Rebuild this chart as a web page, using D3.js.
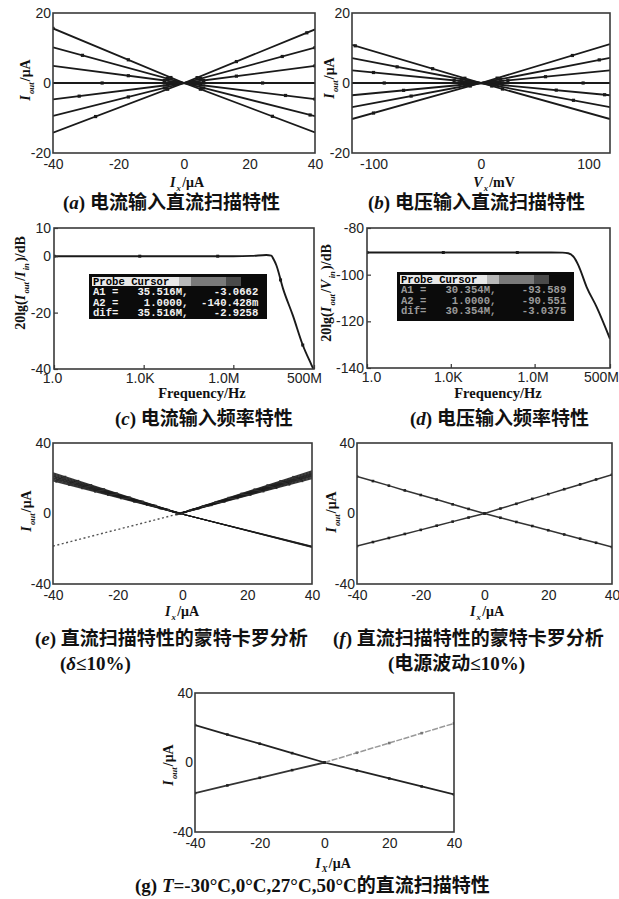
<!DOCTYPE html>
<html><head><meta charset="utf-8">
<script src="https://cdn.jsdelivr.net/npm/d3@7"></script>
<style>body{margin:0;background:#fff}text{white-space:pre}</style>
</head><body>
<script>
// ---------- DATA ----------
// (a) current-input DC sweep: Iout (uA) at Ix = aX
const aX = [-40, 0, 40];
const aSeries = [
  [15.6, 0, 15.3],
  [10.2, 0, 10.1],
  [4.9, 0, 4.9],
  [0, 0, 0],
  [-4.7, 0, -4.6],
  [-9.4, 0, -9.5],
  [-14.2, 0, -14.1]
];
const aMarkX = [[-40,-17,-4,4,16,37.5],[-31,-5,5,30,40],[-17,-6,6,16,40],[-25,-6,6,24],[-32,-5,5,31,40],[-17,-6,6,38.5],[-27,-5,5,27]];
// (b) voltage-input DC sweep: Iout (uA) at Vx = bX (mV)
const bX = [-120, 0, 120];
const bSeries = [
  [10.9, 0, 11.1],
  [7.1, 0, 7.2],
  [3.6, 0, 3.6],
  [0, 0, 0],
  [-3.5, 0, -3.5],
  [-6.9, 0, -6.9],
  [-10.3, 0, -10.3]
];
const bMarkX = [[-117,-45,-15,15,85],[-78,-18,18,110],[-100,-25,25,60],[-90,-20,20,95],[-72,-15,15,70,115],[-65,-12,12,86],[-100,-10,10,20]];
// (c) current-input frequency response
const cFreq = [1, 10, 100, 1e3, 1e4, 1e5, 1e6, 4e6, 1.26e7, 1.86e7, 2.2e7, 2.75e7, 4.6e7, 9.8e7, 2.1e8, 4.1e8, 5e8];
const cGain = [0, 0, 0, 0, 0, 0, 0, 0.1, 0.45, 0.2, -1.0, -3.2, -11.5, -21, -31.5, -38.5, -40.5];
const cMarkF = [1, 740, 3e5, 3.8e7, 2.1e8];
const cCursor = ["A1 =   35.516M,    -3.0662", "A2 =    1.0000,  -140.428m", "dif=   35.516M,    -2.9258"];
// (d) voltage-input frequency response
const dFreq = [1, 10, 100, 1e3, 1e4, 1e5, 1e6, 1e7, 1.6e7, 2.5e7, 3.7e7, 7.3e7, 1.67e8, 5e8];
const dGain = [-90.5, -90.5, -90.5, -90.5, -90.5, -90.5, -90.5, -90.55, -90.8, -92.4, -96, -105.3, -113.9, -127.5];
const dMarkF = [1, 540, 2.4e5];
const dCursor = ["A1 =   30.354M,    -93.589", "A2 =    1.0000,    -90.551", "dif=   30.354M,    -3.0375"];
// frequency axis ticks
const fTicks = [1, 1e3, 1e6, 5e8];
const fTickLabels = ["1.0", "1.0K", "1.0M", "500M"];
// (e) Monte Carlo (delta<=10%)
const eX = [-40, -0.8, 40];
const eDecLeft = [18.6, 19.3, 19.9, 20.4, 20.9, 21.4, 21.9, 22.5, 23.1];
const eDecRight = [-18.5, -18.6, -18.7, -18.8, -18.9, -19.0, -19.1, -19.2, -19.3];
const eIncLeft = [-18.1, -18.2, -18.3, -18.4, -18.5, -18.6, -18.7, -18.8, -18.9];
const eIncRight = [19.8, 20.4, 21.0, 21.5, 22.0, 22.5, 23.0, 23.6, 24.2];
const eMarkX = [-39,-35,-31,-27,-23,-19,-15,-11,-7,-3,1,5,9,13,17,21,25,29,33,37];
// (f) Monte Carlo (supply fluctuation<=10%)
const fX = [-40,-35,-30,-25,-20,-15,-10,-5,0,5,10,15,20,25,30,35,40];
const fDec = [21,18.4,15.8,13.1,10.5,7.9,5.2,2.6,0,-2.4,-4.8,-7.1,-9.5,-11.9,-14.3,-16.6,-19];
const fInc = [-18.5,-16.2,-13.9,-11.6,-9.3,-6.9,-4.6,-2.3,0,2.8,5.5,8.3,11,13.8,16.5,19.3,22];
// (g) temperature sweep
const gX = [-40,-30,-20,-10,0,10,20,30,40];
const gDec = [21.5,16.1,10.8,5.4,0,-4.6,-9.2,-13.8,-18.4];
const gInc = [-17.6,-13.2,-8.8,-4.4,0,5.6,11.2,16.9,22.5];
// tick values
const ticksX40 = [-40, -20, 0, 20, 40];
const ticksY20 = [-20, 0, 20];
const ticksY40 = [-40, 0, 40];
const ticksXmV = [-100, 0, 100];
const ticksYc = [-40, -20, 0, 10];
const ticksYd = [-140, -120, -100, -80];

// ---------- DRAWING ----------
const SANS = "'Liberation Sans', Arial, sans-serif";
const SERIF = "'Liberation Serif', 'Times New Roman', serif";
const CJK = "'Noto Sans CJK SC', sans-serif";
const MONO = "'Liberation Mono', 'DejaVu Sans Mono', monospace";
const INK = "#1a1a1a";

const svg = d3.select('body').append('svg').attr('width', 619).attr('height', 899);
let clipN = 0;

function panel(o) {
  const x = (o.log ? d3.scaleLog() : d3.scaleLinear()).domain(o.xDomain).range([o.x0, o.x1]);
  const y = d3.scaleLinear().domain(o.yDomain).range([o.y1, o.y0]);
  const g = svg.append('g');
  const id = 'clip' + (clipN++);
  svg.append('clipPath').attr('id', id).append('rect')
    .attr('x', o.x0).attr('y', o.y0).attr('width', o.x1 - o.x0).attr('height', o.y1 - o.y0);
  const plot = g.append('g').attr('clip-path', `url(#${id})`);
  const style = s => {
    s.select('.domain').remove();
    s.selectAll('text').attr('font-family', SANS).attr('font-size', 14).attr('fill', '#222');
    s.selectAll('line').attr('stroke', '#333').attr('stroke-width', 1.2);
  };
  const xa = d3.axisBottom(x).tickValues(o.xTicks)
    .tickFormat((d, i) => o.xLabels ? o.xLabels[i] : String(d))
    .tickSize(o.tick || 0).tickPadding(o.xPad || 6);
  const xg = g.append('g').attr('transform', `translate(0,${o.y1})`).call(xa).call(style);
  if (o.xShift) xg.selectAll('text').attr('dx', (d, i) => o.xShift[i]);
  const ya = d3.axisLeft(y).tickValues(o.yTicks).tickFormat(d => String(d))
    .tickSize(o.tick || 0).tickPadding(o.yPad || 2);
  g.append('g').attr('transform', `translate(${o.x0},0)`).call(ya).call(style);
  g.append('rect').attr('x', o.x0).attr('y', o.y0).attr('width', o.x1 - o.x0).attr('height', o.y1 - o.y0)
    .attr('fill', 'none').attr('stroke', '#3a3a3a').attr('stroke-width', 1.6);
  return { g, plot, x, y };
}

function rich(parent, x, y, parts, size, anchor, rotate) {
  const t = parent.append('text')
    .attr('transform', `translate(${x},${y})` + (rotate ? ' rotate(-90)' : ''))
    .attr('text-anchor', anchor || 'middle').attr('font-size', size).attr('fill', '#111');
  let shift = 0, prevSub = false;
  parts.forEach(p => {
    const ts = t.append('tspan').text(p.t);
    const fam = p.c ? CJK : SERIF;
    ts.attr('font-family', fam).attr('font-weight', p.c ? 600 : 'bold');
    if (p.i) ts.attr('font-style', 'italic');
    let want = 0;
    if (p.s) { ts.attr('font-size', size * 0.62).attr('dx', 1.2); want = size * 0.28; }
    else if (prevSub) ts.attr('dx', 1.2);
    if (want !== shift) { ts.attr('dy', want - shift); shift = want; }
    prevSub = !!p.s;
  });
  return t;
}

const IOUT = [{t:'I', i:1}, {t:'out', i:1, s:1}, {t:'/μA'}];
const IX = [{t:'I', i:1}, {t:'x', i:1, s:1}, {t:'/μA'}];

function drawLine(p, pts, opts) {
  p.plot.append('path').datum(pts)
    .attr('d', d3.line().x(d => p.x(d[0])).y(d => p.y(d[1])).curve(opts.curve || d3.curveLinear))
    .attr('fill', 'none').attr('stroke', opts.color || INK).attr('stroke-width', opts.w || 1.8)
    .attr('stroke-dasharray', opts.dash || null).attr('opacity', opts.op || 1);
}
function drawMarks(p, pts, sz, color) {
  p.plot.selectAll(null).data(pts).enter().append('rect')
    .attr('x', d => p.x(d[0]) - sz / 2).attr('y', d => p.y(d[1]) - sz / 2)
    .attr('width', sz).attr('height', sz).attr('fill', color || INK);
}

// ----- (a)
{
  const p = panel({x0:53, x1:315, y0:13, y1:153, xDomain:[-40,40], yDomain:[-20,20], xTicks:ticksX40, yTicks:ticksY20});
  aSeries.forEach((s, k) => {
    drawLine(p, aX.map((v, i) => [v, s[i]]), {w:1.8});
    const f = d3.scaleLinear().domain(aX).range(s);
    drawMarks(p, aMarkX[k].map(v => [v, f(v)]), 3.2);
  });
  rich(svg, 187, 187, IX, 14);
  rich(svg, 30, 80, IOUT, 14, 'middle', true);
}
// ----- (b)
{
  const p = panel({x0:352, x1:610, y0:13, y1:153, xDomain:[-120,120], yDomain:[-20,20], xTicks:ticksXmV, yTicks:ticksY20});
  bSeries.forEach((s, k) => {
    drawLine(p, bX.map((v, i) => [v, s[i]]), {w:1.8});
    const f = d3.scaleLinear().domain(bX).range(s);
    drawMarks(p, bMarkX[k].map(v => [v, f(v)]), 3.2);
  });
  rich(svg, 494, 187, [{t:'V', i:1}, {t:'x', i:1, s:1}, {t:'/mV'}], 14);
  rich(svg, 334, 78, IOUT, 14, 'middle', true);
}
// cursor box
function cursorBox(x, y, w, h, rows, rowColor) {
  const g = svg.append('g');
  g.append('rect').attr('x', x).attr('y', y).attr('width', w).attr('height', h).attr('fill', '#0b0b0b');
  const segs = [[0, 87, '#e8e8e8'], [87, 99, '#b8b8b8'], [99, 134, '#7a7a7a'], [134, 149, '#4a4a4a']];
  segs.forEach(s => g.append('rect').attr('x', x + 3 + s[0]).attr('y', y + 3).attr('width', s[1] - s[0]).attr('height', 9).attr('fill', s[2]));
  g.append('text').attr('x', x + 4).attr('y', y + 11).attr('font-family', MONO).attr('font-weight', 'bold')
    .attr('font-size', 10.6).attr('fill', '#000').text('Probe Cursor');
  rows.forEach((r, i) => g.append('text').attr('x', x + 4).attr('y', y + 21 + i * 10.5)
    .attr('font-family', MONO).attr('font-weight', 'bold').attr('font-size', 10.6).attr('fill', rowColor).text(r));
}
// ----- (c)
{
  const p = panel({x0:54, x1:314, y0:228, y1:369, log:true, xDomain:[1,5e8], yDomain:[-40,10],
    xTicks:fTicks, xLabels:fTickLabels, xShift:[-2,-4,-10,-10], yTicks:ticksYc, tick:-4, xPad:4, yPad:3});
  const pts = cFreq.map((f, i) => [f, cGain[i]]);
  drawLine(p, pts, {w:1.9, curve:d3.curveMonotoneX});
  const f = d3.scaleLog().domain(cFreq).range(cGain);
  drawMarks(p, cMarkF.map(v => [v, f(v)]), 3);
  cursorBox(89, 274, 178, 45, cCursor, '#f2f2f2');
  rich(svg, 202, 398, [{t:'Frequency/Hz'}], 14.5);
  rich(svg, 25, 283, [{t:'20lg('}, {t:'I', i:1}, {t:'out', i:1, s:1}, {t:'/'}, {t:'I', i:1}, {t:'in', i:1, s:1}, {t:')/dB'}], 14, 'middle', true);
}
// ----- (d)
{
  const p = panel({x0:367, x1:610, y0:228, y1:368, log:true, xDomain:[1,5e8], yDomain:[-140,-80],
    xTicks:fTicks, xLabels:fTickLabels, xShift:[4,-3,-2,-9], yTicks:ticksYd, tick:-4, xPad:4, yPad:3});
  const pts = dFreq.map((f, i) => [f, dGain[i]]);
  drawLine(p, pts, {w:1.9, curve:d3.curveMonotoneX});
  const f = d3.scaleLog().domain(dFreq).range(dGain);
  drawMarks(p, dMarkF.map(v => [v, f(v)]), 3);
  cursorBox(397, 272, 177, 49, dCursor, '#9a9a9a');
  rich(svg, 498, 398, [{t:'Frequency/Hz'}], 14.5);
  rich(svg, 331, 293, [{t:'20lg('}, {t:'I', i:1}, {t:'out', i:1, s:1}, {t:'/'}, {t:'V', i:1}, {t:'in', i:1, s:1}, {t:')/dB'}], 14, 'middle', true);
}
// ----- (e)
{
  const p = panel({x0:53, x1:312, y0:443, y1:584, xDomain:[-40,40], yDomain:[-40,40], xTicks:ticksX40, yTicks:ticksY40});
  eDecLeft.forEach((_, k) => {
    const dec = eX.map((v, i) => [v, [eDecLeft[k], 0, eDecRight[k]][i]]);
    const inc = eX.map((v, i) => [v, [eIncLeft[k], 0, eIncRight[k]][i]]);
    drawLine(p, dec.slice(0, 2), {w:1.3, op:0.85});
    drawLine(p, dec.slice(1), {w:1.0, op:0.6});
    if (k === 4) drawLine(p, inc.slice(0, 2), {w:1.4, color:'#555', dash:'2,2.5'});
    drawLine(p, inc.slice(1), {w:1.3, op:0.85});
    const fd = d3.scaleLinear().domain(eX).range(dec.map(d => d[1]));
    const fi = d3.scaleLinear().domain(eX).range(inc.map(d => d[1]));
    drawMarks(p, eMarkX.filter(v => v < 0).map(v => [v + k * 0.35, fd(v + k * 0.35)]), 2, '#333');
    drawMarks(p, eMarkX.filter(v => v > 0).map(v => [v - k * 0.35, fi(v - k * 0.35)]), 2, '#333');
  });
  rich(svg, 182, 616, IX, 14);
  rich(svg, 31, 511, IOUT, 14, 'middle', true);
}
// ----- (f)
{
  const p = panel({x0:357, x1:612, y0:443, y1:584, xDomain:[-40,40], yDomain:[-40,40], xTicks:ticksX40, yTicks:ticksY40});
  const dec = fX.map((v, i) => [v, fDec[i]]);
  const inc = fX.map((v, i) => [v, fInc[i]]);
  drawLine(p, dec, {w:1.5, color:'#333'});
  drawLine(p, inc, {w:1.5, color:'#333'});
  drawMarks(p, dec, 2.6, '#222');
  drawMarks(p, inc, 2.6, '#222');
  rich(svg, 487, 616, IX, 14);
  rich(svg, 336, 512, IOUT, 14, 'middle', true);
}
// ----- (g)
{
  const p = panel({x0:195, x1:454, y0:693, y1:832, xDomain:[-40,40], yDomain:[-40,40], xTicks:ticksX40, yTicks:ticksY40});
  const dec = gX.map((v, i) => [v, gDec[i]]);
  const inc = gX.map((v, i) => [v, gInc[i]]);
  drawLine(p, dec, {w:1.8, color:'#222'});
  drawLine(p, inc.slice(0, 5), {w:1.8, color:'#333'});
  drawLine(p, inc.slice(4), {w:1.5, color:'#999', dash:'6,1.5'});
  drawMarks(p, dec, 2.6, '#222');
  drawMarks(p, inc.slice(0, 5), 2.6, '#222');
  drawMarks(p, inc.slice(5), 2.6, '#777');
  rich(svg, 333, 868, [{t:'I', i:1}, {t:'X', i:1, s:1}, {t:'/μA'}], 14);
  rich(svg, 173, 765, IOUT, 14, 'middle', true);
}

// ----- captions
const CS = 19;
rich(svg, 63, 209, [{t:'('}, {t:'a', i:1}, {t:') '}, {t:'电流输入直流扫描特性', c:1}], CS, 'start');
rich(svg, 368, 209, [{t:'('}, {t:'b', i:1}, {t:') '}, {t:'电压输入直流扫描特性', c:1}], CS, 'start');
rich(svg, 115, 425, [{t:'('}, {t:'c', i:1}, {t:') '}, {t:'电流输入频率特性', c:1}], CS, 'start');
rich(svg, 410, 425, [{t:'('}, {t:'d', i:1}, {t:') '}, {t:'电压输入频率特性', c:1}], CS, 'start');
rich(svg, 35, 645, [{t:'('}, {t:'e', i:1}, {t:') '}, {t:'直流扫描特性的蒙特卡罗分析', c:1}], CS, 'start');
rich(svg, 60, 670, [{t:'('}, {t:'δ', i:1}, {t:'≤10%)'}], CS, 'start');
rich(svg, 333, 645, [{t:'('}, {t:'f', i:1}, {t:') '}, {t:'直流扫描特性的蒙特卡罗分析', c:1}], CS, 'start');
rich(svg, 388, 670, [{t:'('}, {t:'电源波动', c:1}, {t:'≤10%)'}], CS, 'start');
rich(svg, 135, 892, [{t:'(g) '}, {t:'T', i:1}, {t:'=-30°C,0°C,27°C,50°C'}, {t:'的直流扫描特性', c:1}], CS, 'start');
</script>
</body></html>
